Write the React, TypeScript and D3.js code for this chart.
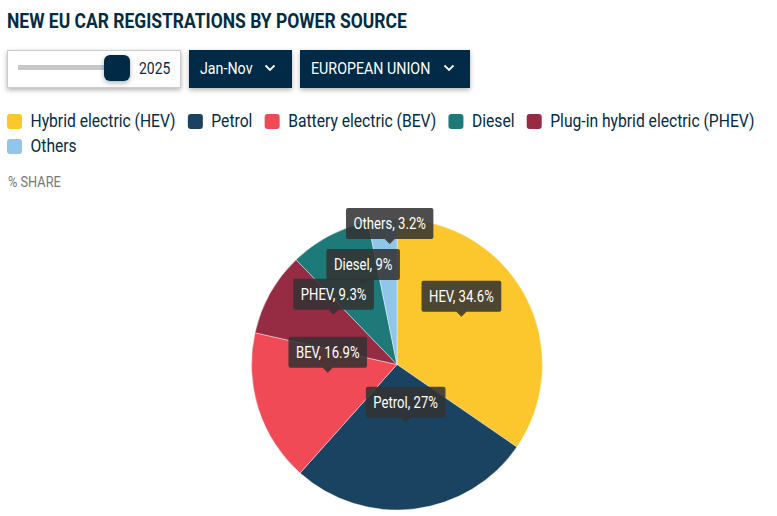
import React from 'react';
import * as d3 from 'd3';

const legendLabels = ['Hybrid electric (HEV)', 'Petrol', 'Battery electric (BEV)', 'Diesel', 'Plug-in hybrid electric (PHEV)', 'Others'];
const legendColors = ['#fcc62d', '#1a4361', '#f04a56', '#1e7a78', '#962c44', '#90c6ea'];
const shortLabels = ['HEV', 'Petrol', 'BEV', 'Diesel', 'PHEV', 'Others'];
const shares = [34.6, 27, 16.9, 9, 9.3, 3.2];
// drawing order round the pie, clockwise from 12 o'clock
const pieOrder = ['HEV', 'Petrol', 'BEV', 'PHEV', 'Diesel', 'Others'];

const WIDTH = 777;
const HEIGHT = 516;
const NAVY = '#032c45';
const FONT = 'Roboto, sans-serif';
// Roboto is squeezed horizontally to get close to the condensed face
const SQUEEZE = 0.87;
const TIP_SQUEEZE = 0.82;

// how far each tooltip sits above the slice centroid
const tipLift: Record<string, number> = { HEV: 14, Petrol: 14, BEV: 14, PHEV: 14, Diesel: 15, Others: 48 };

const ctx = document.createElement('canvas').getContext('2d')!;
const textWidth = (s: string, size: number, squeeze = SQUEEZE, weight = 400) => {
  ctx.font = `${weight} ${size}px Roboto`;
  return ctx.measureText(s).width * squeeze;
};

const Txt = ({ x, y, size, fill, weight = 400, squeeze = SQUEEZE, children }: any) => (
  <text
    transform={`translate(${x},${y}) scale(${squeeze},1)`}
    fontFamily={FONT}
    fontSize={size}
    fontWeight={weight}
    fill={fill}
  >
    {children}
  </text>
);

const Chevron = ({ x, y }: { x: number; y: number }) => (
  <path d={`M${x - 4.5},${y - 2.5}L${x},${y + 2}L${x + 4.5},${y - 2.5}`} fill="none" stroke="#fff" strokeWidth={1.8} />
);

const App: React.FC = () => {
  const rows = pieOrder.map(name => {
    const i = shortLabels.indexOf(name);
    return { name, value: shares[i], color: legendColors[i] };
  });

  const pie = d3.pie<(typeof rows)[number]>().sort(null).value(d => d.value);
  const radius = 145.5;
  const cx = 397;
  const cy = 364.5;
  const arc = d3.arc<d3.PieArcDatum<(typeof rows)[number]>>().innerRadius(0).outerRadius(radius);
  const slices = pie(rows);

  // legend flows like inline items and wraps at the page edge
  let lx = 7;
  let ly = 114;
  const legendItems = legendLabels.map((label, i) => {
    const w = 23.5 + textWidth(label, 18);
    if (lx + w > WIDTH - 15) {
      lx = 7;
      ly += 25;
    }
    const item = { label, color: legendColors[i], x: lx, y: ly };
    lx += w + 12.2;
    return item;
  });

  return (
    <svg
      width={WIDTH}
      height={HEIGHT}
      viewBox={`0 0 ${WIDTH} ${HEIGHT}`}
      style={{ position: 'absolute', left: 0, top: 0, background: '#fff' }}
    >
      <defs>
        <filter id="shadow" x="-20%" y="-30%" width="140%" height="170%">
          <feDropShadow dx="0" dy="2" stdDeviation="2.5" floodColor="#000" floodOpacity="0.3" />
        </filter>
      </defs>

      <Txt x={7} y={28} size={20.1} weight={700} fill={NAVY}>NEW EU CAR REGISTRATIONS BY POWER SOURCE</Txt>

      {/* controls */}
      <rect x={7.5} y={50.5} width={173} height={37} fill="#fff" stroke="#ccc" filter="url(#shadow)" />
      <rect x={18} y={65} width={88} height={5} fill="#c8c8c8" />
      <rect x={104} y={55} width={26} height={26} rx={6} fill={NAVY} filter="url(#shadow)" />
      <Txt x={139} y={74} size={16} fill={NAVY}>2025</Txt>

      <rect x={189} y={50} width={103} height={38} fill={NAVY} filter="url(#shadow)" />
      <Txt x={200} y={74} size={16.4} fill="#fff">Jan-Nov</Txt>
      <Chevron x={270} y={68} />

      <rect x={300} y={50} width={170} height={38} fill={NAVY} filter="url(#shadow)" />
      <Txt x={311} y={74} size={16.4} fill="#fff">EUROPEAN UNION</Txt>
      <Chevron x={449} y={68} />

      {/* legend */}
      {legendItems.map(d => (
        <g key={d.label}>
          <rect x={d.x} y={d.y} width={15} height={15} rx={3} fill={d.color} />
          <Txt x={d.x + 23.5} y={d.y + 13} size={18} fill={NAVY}>{d.label}</Txt>
        </g>
      ))}

      <Txt x={8} y={187} size={14.7} fill="#777">% SHARE</Txt>

      {/* pie */}
      <g transform={`translate(${cx},${cy})`}>
        {slices.map(s => (
          <path key={s.data.name} d={arc(s) || ''} fill={s.data.color} stroke="#fff" strokeWidth={0.4} />
        ))}
      </g>

      {/* tooltips */}
      {slices.map(s => {
        const [mx, my] = arc.centroid(s);
        const tipX = cx + mx;
        const tipY = cy + my - tipLift[s.data.name];
        const label = `${s.data.name}, ${s.data.value}%`;
        const w = textWidth(label, 16, TIP_SQUEEZE) + 15;
        const h = 31;
        const top = tipY - 5 - h;
        return (
          <g key={label}>
            <path
              d={`M${tipX - w / 2 + 2},${top}H${tipX + w / 2 - 2}Q${tipX + w / 2},${top} ${tipX + w / 2},${top + 2}V${top + h - 2}Q${tipX + w / 2},${top + h} ${tipX + w / 2 - 2},${top + h}H${tipX + 5}L${tipX},${tipY}L${tipX - 5},${top + h}H${tipX - w / 2 + 2}Q${tipX - w / 2},${top + h} ${tipX - w / 2},${top + h - 2}V${top + 2}Q${tipX - w / 2},${top} ${tipX - w / 2 + 2},${top}Z`}
              fill="#333"
              fillOpacity={0.87}
            />
            <Txt x={tipX - w / 2 + 7.5} y={top + 21} size={16} squeeze={TIP_SQUEEZE} fill="#fff">{label}</Txt>
          </g>
        );
      })}
    </svg>
  );
};

export default App;
